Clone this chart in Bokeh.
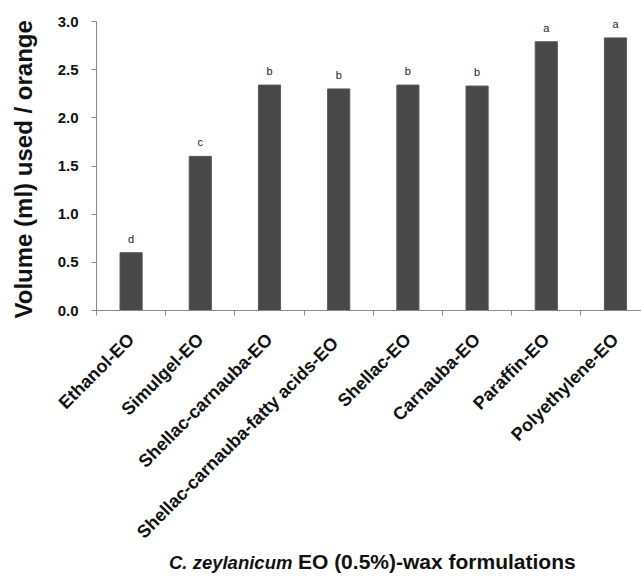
import math
from bokeh.plotting import figure
from bokeh.layouts import column
from bokeh.models import (Range1d, FixedTicker, NumeralTickFormatter, ColumnDataSource,
                          LabelSet, Div)
from bokeh.core.properties import value
from bokeh.embed import file_html
from bokeh.resources import INLINE

categories = ["Ethanol-EO", "Simulgel-EO", "Shellac-carnauba-EO",
              "Shellac-carnauba-fatty  acids-EO", "Shellac-EO", "Carnauba-EO",
              "Paraffin-EO", "Polyethylene-EO"]
volumes = [0.60, 1.60, 2.34, 2.30, 2.34, 2.33, 2.79, 2.83]
letters = ["d", "c", "b", "b", "b", "b", "a", "a"]
y_ticks = [0.0, 0.5, 1.0, 1.5, 2.0, 2.5, 3.0]
x_title_italic = "C. zeylanicum"
x_title_rest = "EO (0.5%)-wax formulations"

FONT = "Liberation Sans"
centers = [i + 0.5 for i in range(len(categories))]
bounds = list(range(len(categories) + 1))

p = figure(width=641, height=555, output_backend="svg", toolbar_location=None,
           x_range=Range1d(0, 7.876), y_range=Range1d(0, 3.0),
           min_border_left=96, min_border_top=21, min_border_bottom=245,
           min_border_right=0, margin=(0, 0, 0, 0))
p.outline_line_color = None
p.xgrid.visible = False
p.ygrid.visible = False

src = ColumnDataSource(dict(x=centers, top=volumes, lab=letters))
p.vbar(x="x", top="top", width=0.32, bottom=0, source=src,
       fill_color="#484848", line_color="#5a5a5a", line_width=1)

p.add_layout(LabelSet(x="x", y="top", text="lab", source=src, y_offset=10,
                      text_align="center", text_baseline="alphabetic",
                      text_font=value(FONT), text_font_size="11px",
                      text_color="#222222"))

# y axis
ya = p.yaxis[0]
ya.ticker = FixedTicker(ticks=y_ticks)
ya.formatter = NumeralTickFormatter(format="0.0")
ya.axis_line_color = "#8a8a8a"
ya.major_tick_line_color = "#8a8a8a"
ya.major_tick_in = 0
ya.major_tick_out = 5
ya.minor_tick_line_color = None
ya.major_label_text_font = FONT
ya.major_label_text_font_style = "bold"
ya.major_label_text_font_size = "15px"
ya.major_label_text_color = "#111111"
ya.major_label_standoff = 13
ya.axis_label = "Volume (ml)  used / orange"
ya.axis_label_text_font = FONT
ya.axis_label_text_font_style = "bold"
ya.axis_label_text_font_size = "24px"
ya.axis_label_text_color = "#111111"
ya.axis_label_standoff = 18

# x axis
xa = p.xaxis[0]
xa.ticker = FixedTicker(ticks=centers, minor_ticks=bounds)
xa.major_label_overrides = {c: n for c, n in zip(centers, categories)}
xa.axis_line_color = "#8a8a8a"
xa.major_tick_line_color = None
xa.minor_tick_line_color = "#8a8a8a"
xa.minor_tick_in = 0
xa.minor_tick_out = 5
xa.major_label_orientation = math.pi / 4
xa.major_label_text_font = FONT
xa.major_label_text_font_style = "bold"
xa.major_label_text_font_size = "18px"
xa.major_label_text_color = "#111111"
xa.major_label_standoff = 20

title = Div(
    text=(f'<div style="position:relative; top:-5px; white-space:nowrap;">'
          f'<b><i style="font-size:18.5px">{x_title_italic}</i> '
          f'<span style="font-size:21px">{x_title_rest}</span></b></div>'),
    width=641, height=23, margin=(0, 0, 0, 0),
    styles={"font-family": "'Liberation Sans', Arial, sans-serif",
            "font-size": "20px", "line-height": "24px", "color": "#111111",
            "padding-left": "169px", "overflow": "visible"},
)

layout = column(p, title, spacing=0, margin=(0, 0, 0, 0))
open("out.html", "w").write(file_html(layout, INLINE))
